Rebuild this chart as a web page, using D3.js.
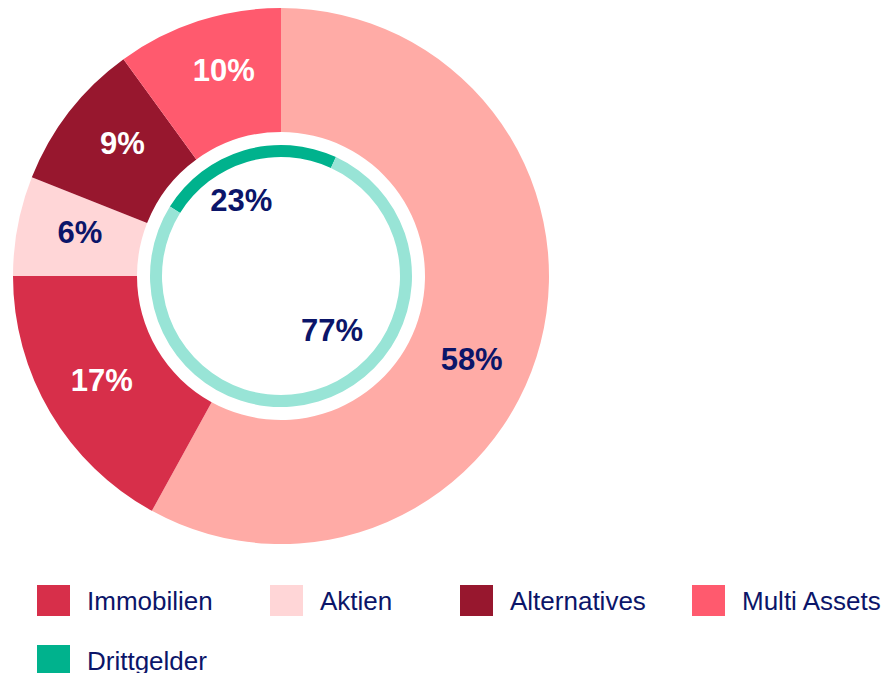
<!DOCTYPE html>
<html>
<head>
<meta charset="utf-8">
<script src="https://cdn.jsdelivr.net/npm/d3@7"></script>
<style>
  html, body { margin: 0; padding: 0; background: #fff; }
  svg { display: block; font-family: "Liberation Sans", Arial, sans-serif; }
</style>
</head>
<body>
<div id="chart"></div>
<script>
// outer ring: asset classes (first slice has no legend entry)
const outerCategories = ["Sonstige", "Immobilien", "Aktien", "Alternatives", "Multi Assets"];
const outerValues = [58, 17, 6, 9, 10];
const outerColors = ["#ffaba6", "#d72f4a", "#ffd6d7", "#97172e", "#ff5a6e"];
const outerLabelColors = ["#0b1569", "#ffffff", "#0b1569", "#ffffff", "#ffffff"];

// inner ring
const innerCategories = ["Drittgelder", "Eigene"];
const innerValues = [23, 77];
const innerColors = ["#00b28d", "#98e4d6"];

const legendItems = ["Immobilien", "Aktien", "Alternatives", "Multi Assets", "Drittgelder"];
const legendColors = ["#d72f4a", "#ffd6d7", "#97172e", "#ff5a6e", "#00b28d"];

const width = 887;
const height = 673;
const cx = 281, cy = 276;
const navy = "#0b1569";

const svg = d3.select("#chart").append("svg")
  .attr("width", width)
  .attr("height", height)
  .attr("viewBox", [0, 0, width, height]);

const g = svg.append("g").attr("transform", `translate(${cx},${cy})`);

// Outer donut
const outerData = outerCategories.map((c, i) => ({ name: c, value: outerValues[i], i }));
const outerPie = d3.pie().sort(null).value(d => d.value);
const outerArc = d3.arc().innerRadius(144).outerRadius(268);
const outerArcs = outerPie(outerData);

g.selectAll("path.outer").data(outerArcs).join("path")
  .attr("class", "outer")
  .attr("d", outerArc)
  .attr("fill", d => outerColors[d.data.i]);

// label placement: small nudges so the labels sit where the original had them
const outerTurn = [0.16, 0.01, 0.028, 0.038, 0.044];
const outerR = [208, 207, 206, 207, 214];
g.selectAll("text.outer").data(outerArcs).join("text")
  .attr("class", "outer")
  .attr("transform", d => {
    const a = (d.startAngle + d.endAngle) / 2 + outerTurn[d.data.i];
    const r = outerR[d.data.i];
    return `translate(${r * Math.sin(a)},${-r * Math.cos(a)})`;
  })
  .attr("text-anchor", "middle")
  .attr("dy", "0.36em")
  .attr("font-size", 31)
  .attr("font-weight", "bold")
  .attr("fill", d => outerLabelColors[d.data.i])
  .text(d => d.data.value + "%");

// Inner ring
const innerData = innerCategories.map((c, i) => ({ name: c, value: innerValues[i], i }));
const start = -58 * Math.PI / 180;
const innerPie = d3.pie().sort(null).value(d => d.value)
  .startAngle(start).endAngle(start + 2 * Math.PI);
const innerArc = d3.arc().innerRadius(119).outerRadius(131);
const innerArcs = innerPie(innerData);

g.selectAll("path.inner").data(innerArcs).join("path")
  .attr("class", "inner")
  .attr("d", innerArc)
  .attr("fill", d => innerColors[d.data.i]);

const innerTurn = [-0.19, -0.47];
const innerR = [86, 74];
g.selectAll("text.inner").data(innerArcs).join("text")
  .attr("class", "inner")
  .attr("transform", d => {
    const a = (d.startAngle + d.endAngle) / 2 + innerTurn[d.data.i];
    const r = innerR[d.data.i];
    return `translate(${r * Math.sin(a)},${-r * Math.cos(a)})`;
  })
  .attr("text-anchor", "middle")
  .attr("dy", "0.36em")
  .attr("font-size", 31)
  .attr("font-weight", "bold")
  .attr("fill", navy)
  .text(d => d.data.value + "%");

// Legend
const colX = [37, 270, 460, 692];
const legend = svg.append("g");
const item = legend.selectAll("g").data(legendItems).join("g")
  .attr("transform", (d, i) => `translate(${colX[i % 4]},${585 + Math.floor(i / 4) * 60})`);

item.append("rect")
  .attr("width", 33)
  .attr("height", 31)
  .attr("fill", (d, i) => legendColors[i]);

item.append("text")
  .attr("x", 50)
  .attr("y", 25)
  .attr("font-size", 26)
  .attr("fill", navy)
  .text(d => d);
</script>
</body>
</html>
